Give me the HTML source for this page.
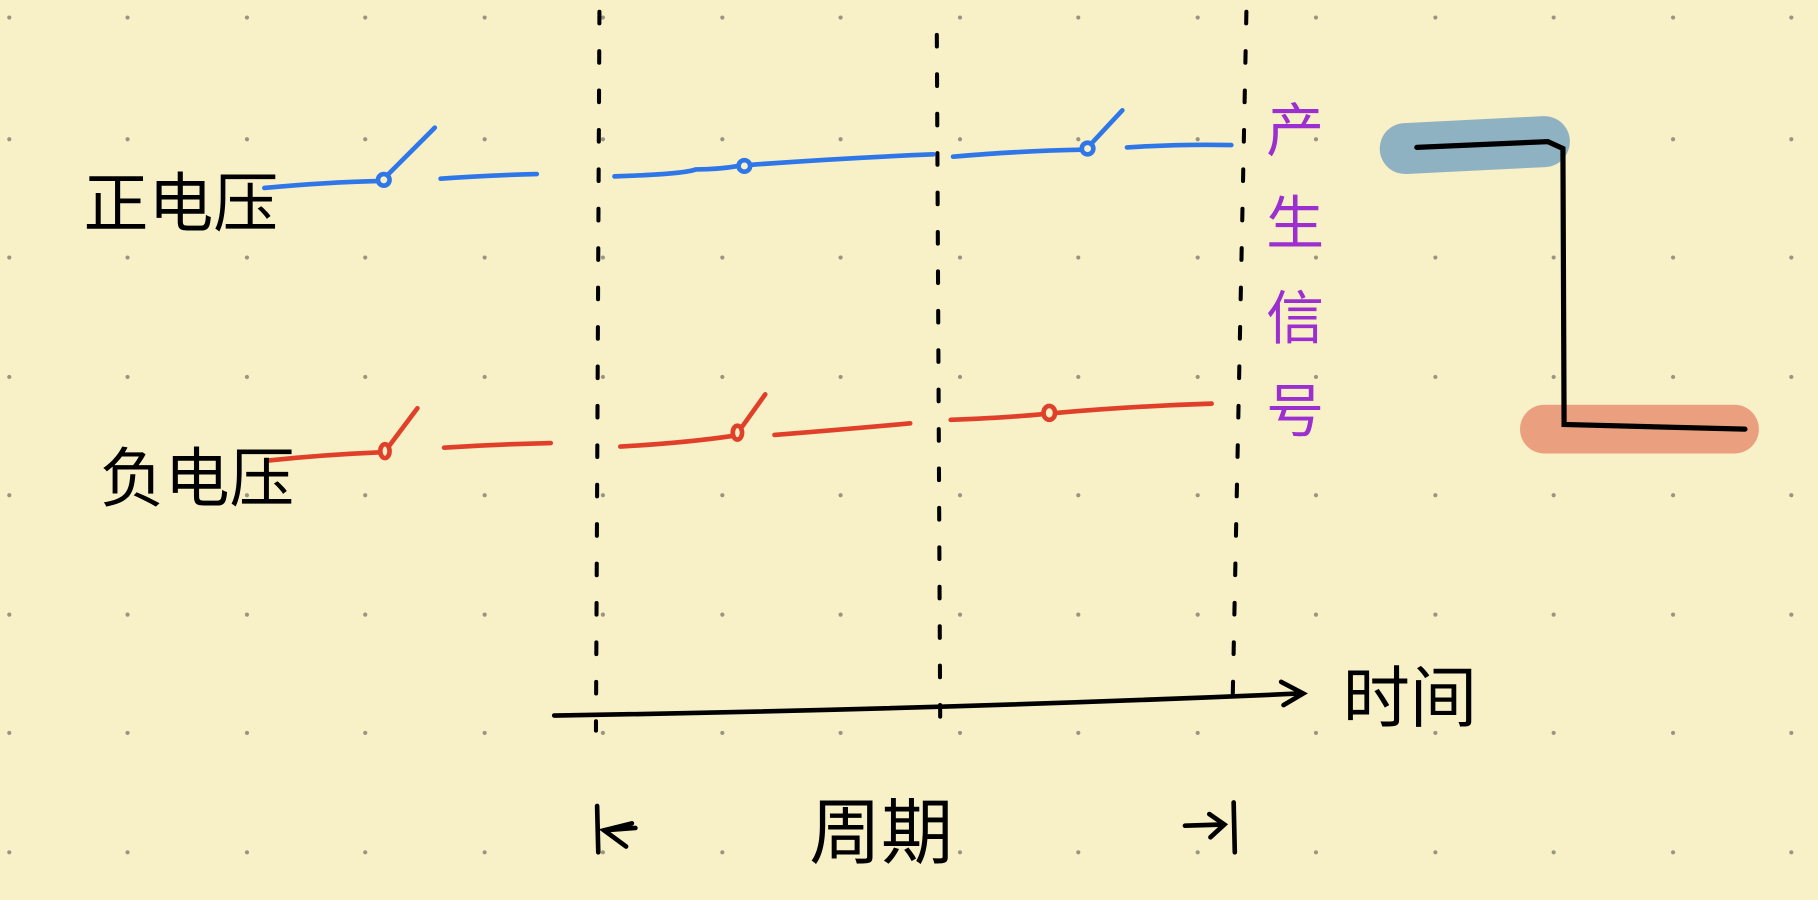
<!DOCTYPE html>
<html><head><meta charset="utf-8"><style>
html,body{margin:0;padding:0;background:#f8f0c6;}
svg{display:block;}
text{font-family:"Liberation Sans","Noto Sans CJK SC","WenQuanYi Zen Hei",sans-serif;}
</style></head><body>
<svg id="s" width="1818" height="900" viewBox="0 0 1568 776">
<rect width="1568" height="776" fill="#f8f0c6"/>
<g id="dots"></g>

<g fill="none" stroke="#000" stroke-width="3.5" stroke-dasharray="10 24" stroke-linecap="round">
<path d="M517 10 L514 630"/>
<path d="M808 30 L811 640"/>
<path d="M1075 10 L1063 612"/>
</g>

<g fill="none" stroke="#2f77e8" stroke-width="4" stroke-linecap="round">
<path d="M228 162 Q280 157 326 156"/><circle cx="331" cy="155" r="5"/><path d="M334 151 L375 110"/>
<path d="M380 154 Q420 151 463 150"/>
<path d="M530 152 Q590 150 600 146 Q620 146 637 143"/><circle cx="642" cy="143" r="5"/>
<path d="M648 142 Q730 136 805 133"/>
<path d="M822 135 Q880 130 933 129"/><circle cx="938" cy="128" r="5"/><path d="M941 124 L968 95"/>
<path d="M972 127 Q1020 124 1062 125"/>
</g>

<g fill="none" stroke="#e0402a" stroke-width="4" stroke-linecap="round">
<path d="M232 397 Q280 392 328 390"/><ellipse cx="332" cy="389" rx="4" ry="6"/><path d="M336 384 L360 352"/>
<path d="M383 386 Q430 383 475 382"/>
<path d="M535 385 Q590 382 631 376"/><ellipse cx="636" cy="373" rx="4" ry="6"/><path d="M640 368 L660 340"/>
<path d="M668 375 Q730 370 785 365"/>
<path d="M820 362 Q870 360 900 357"/><ellipse cx="905" cy="356" rx="5" ry="6"/>
<path d="M911 356 Q980 350 1045 348"/>
</g>

<text x="72" y="195" font-size="56" fill="#000">正电压</text>
<text x="86" y="432" font-size="56" fill="#000">负电压</text>

<g fill="none" stroke="#000" stroke-width="4" stroke-linecap="round">
<path d="M478 617 Q800 612 1122 598"/><path d="M1105 588 L1124 598 L1107 608"/>
</g>
<text x="1158" y="622" font-size="58" fill="#000">时间</text>

<text x="698" y="740" font-size="62" fill="#000">周期</text>
<g fill="none" stroke="#000" stroke-width="4" stroke-linecap="round">
<path d="M515 695 L516 735"/><path d="M545 710 L521 716 L540 730"/><path d="M521 716 L548 714"/>
<path d="M1022 712 L1055 711"/><path d="M1043 702 L1056 711 L1044 722"/><path d="M1064 692 L1065 735"/>
</g>

<g font-size="50" fill="#9b2fcf">
<text x="1092" y="130">产</text><text x="1092" y="210">生</text><text x="1092" y="292">信</text><text x="1092" y="372">号</text>
</g>

<g fill="none" stroke-linecap="round">
<path d="M1212 128 L1332 122" stroke="#8fb2c2" stroke-width="44"/>
<path d="M1332 370 L1496 370" stroke="#eaa07f" stroke-width="42"/>
<path d="M1222 127 L1335 122 L1348 128 L1349 366 L1505 370" stroke="#000" stroke-width="4.5"/>
</g>
</svg>
<script>
const dotXs=[8,110,213,315,418,520,623,725,828,930,1033,1135,1238,1340,1443,1545];
const dotYs=[15,120,222,325,427,530,632,735];
const g=document.getElementById('dots');
for(const x of dotXs){for(const y of dotYs){
const c=document.createElementNS('http://www.w3.org/2000/svg','circle');
c.setAttribute('cx',x);c.setAttribute('cy',y);c.setAttribute('r',1.8);c.setAttribute('fill','#9a9580');


g.appendChild(c);}}
</script>
</body></html>
